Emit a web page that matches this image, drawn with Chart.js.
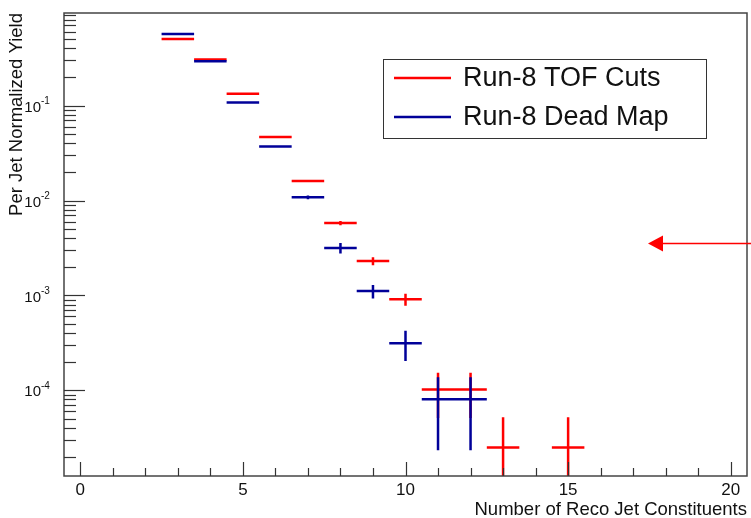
<!DOCTYPE html>
<html>
<head>
<meta charset="utf-8">
<script src="https://cdn.jsdelivr.net/npm/chart.js@4.4.0/dist/chart.umd.min.js"></script>
<style>
  body { margin: 0; background: #fff; }
  #wrap { width: 751px; height: 518px; }
</style>
</head>
<body>
<div id="wrap"><canvas id="chart" width="751" height="518"></canvas></div>
<script>
// values (bin centre = number of constituents)
const tofBins  = [3, 4, 5, 6, 7, 8, 9, 10, 11, 12, 13, 15];
const tofYield = [0.503, 0.306, 0.133, 0.0468, 0.0161, 0.0058, 0.0023, 0.00091, 1.02e-4, 1.02e-4, 2.5e-5, 2.5e-5];
const tofErr   = [0.002, 0.0015, 0.001, 0.0005, 0.00015, 0.0003, 0.00022, 0.00013, 5.1e-5, 5.1e-5, 2.7e-5, 2.7e-5];

const deadBins  = [3, 4, 5, 6, 7, 8, 9, 10, 11, 12];
const deadYield = [0.569, 0.294, 0.108, 0.037, 0.0108, 0.00316, 0.00111, 3.13e-4, 8.04e-5, 8.04e-5];
const deadErr   = [0.002, 0.0015, 0.0008, 0.0004, 0.0005, 0.0004, 0.00018, 0.00011, 5.7e-5, 5.7e-5];

const seriesNames = ["Run-8 TOF Cuts", "Run-8 Dead Map"];
const xTickLabels = [0, 5, 10, 15, 20];
const yDecades = [-1, -2, -3, -4];
const xTitle = "Number of Reco Jet Constituents";
const yTitle = "Per Jet Normalized Yield";

const X_MIN = -0.5, X_MAX = 20.5;
const Y_MIN = 1.25e-5, Y_MAX = 0.946;

const RED = "#ff0000";
const BLUE = "#000099";
const FONT = "'Liberation Sans', Arial, Helvetica, sans-serif";

// one horizontal bar across the bin plus a vertical error bar, gaps between
function histPoints(bins, vals, errs) {
    const pts = [];
    bins.forEach((b, i) => {
        const v = vals[i], e = errs[i];
        pts.push({ x: b - 0.5, y: v }, { x: b + 0.5, y: v }, { x: b, y: null });
        pts.push({ x: b, y: Math.max(v - e, Y_MIN) }, { x: b, y: v + e }, { x: b, y: null });
    });
    return pts;
}

// ROOT style frame, inward ticks, labels, legend and the arrow
const rootDecor = {
    id: "rootDecor",
    afterDraw(chart) {
        const ctx = chart.ctx;
        const ca = chart.chartArea;
        const xs = chart.scales.x, ys = chart.scales.y;
        ctx.save();

        // frame
        ctx.strokeStyle = "#444";
        ctx.lineWidth = 1.5;
        ctx.strokeRect(ca.left, ca.top, ca.right - ca.left, ca.bottom - ca.top);

        // x ticks
        ctx.lineWidth = 1.2;
        ctx.strokeStyle = "#333";
        for (let i = Math.ceil(X_MIN); i <= X_MAX; i++) {
            const px = Math.round(xs.getPixelForValue(i)) + 0.5;
            const len = xTickLabels.includes(i) ? 14 : 8;
            ctx.beginPath();
            ctx.moveTo(px, ca.bottom);
            ctx.lineTo(px, ca.bottom - len);
            ctx.stroke();
        }
        // y ticks
        for (let d = -6; d <= 0; d++) {
            for (let m = 1; m <= 9; m++) {
                const v = m * Math.pow(10, d);
                if (v < Y_MIN || v > Y_MAX) continue;
                const py = Math.round(ys.getPixelForValue(v)) + 0.5;
                const len = m === 1 ? 21 : 12;
                ctx.beginPath();
                ctx.moveTo(ca.left, py);
                ctx.lineTo(ca.left + len, py);
                ctx.stroke();
            }
        }

        ctx.fillStyle = "#111";
        // x tick labels
        ctx.font = "17px " + FONT;
        ctx.textAlign = "center";
        ctx.textBaseline = "top";
        xTickLabels.forEach(t => {
            ctx.fillText(String(t), xs.getPixelForValue(t), 482);
        });

        // y tick labels 10^n
        yDecades.forEach(d => {
            const py = ys.getPixelForValue(Math.pow(10, d));
            ctx.font = "15px " + FONT;
            ctx.textAlign = "right";
            ctx.textBaseline = "middle";
            ctx.fillText("10", 41, py + 2);
            ctx.font = "10px " + FONT;
            ctx.textAlign = "left";
            ctx.fillText("-" + Math.abs(d), 41, py - 4);
        });

        // axis titles
        ctx.font = "18.5px " + FONT;
        ctx.textAlign = "right";
        ctx.textBaseline = "alphabetic";
        ctx.fillText(xTitle, ca.right, 515);

        ctx.save();
        ctx.translate(22, ca.top);
        ctx.rotate(-Math.PI / 2);
        ctx.fillText(yTitle, 0, 0);
        ctx.restore();

        // legend
        ctx.fillStyle = "#fff";
        ctx.fillRect(383, 59, 323, 79);
        ctx.strokeStyle = "#333";
        ctx.lineWidth = 1;
        ctx.strokeRect(383.5, 59.5, 323, 79);
        const rows = [78, 117];
        const cols = [RED, BLUE];
        ctx.font = "27px " + FONT;
        ctx.textAlign = "left";
        ctx.textBaseline = "middle";
        rows.forEach((ry, i) => {
            ctx.strokeStyle = cols[i];
            ctx.lineWidth = 2.5;
            ctx.beginPath();
            ctx.moveTo(394, ry);
            ctx.lineTo(451, ry);
            ctx.stroke();
            ctx.fillStyle = "#111";
            ctx.fillText(seriesNames[i], 463, ry + 1);
        });

        // red arrow on the right
        ctx.strokeStyle = RED;
        ctx.fillStyle = RED;
        ctx.lineWidth = 1.5;
        ctx.beginPath();
        ctx.moveTo(751, 243.5);
        ctx.lineTo(660, 243.5);
        ctx.stroke();
        ctx.beginPath();
        ctx.moveTo(648, 243.5);
        ctx.lineTo(663, 235.5);
        ctx.lineTo(663, 251.5);
        ctx.closePath();
        ctx.fill();

        ctx.restore();
    }
};

new Chart(document.getElementById("chart"), {
    type: "line",
    data: {
        datasets: [
            {
                label: seriesNames[0],
                data: histPoints(tofBins, tofYield, tofErr),
                borderColor: RED,
                borderWidth: 2.5,
                pointRadius: 0,
                spanGaps: false,
                tension: 0,
                order: 2
            },
            {
                label: seriesNames[1],
                data: histPoints(deadBins, deadYield, deadErr),
                borderColor: BLUE,
                borderWidth: 2.5,
                pointRadius: 0,
                spanGaps: false,
                tension: 0,
                order: 1
            }
        ]
    },
    options: {
        responsive: false,
        animation: false,
        layout: { padding: { left: 64, top: 13, right: 4, bottom: 42 } },
        plugins: {
            legend: { display: false },
            tooltip: { enabled: false }
        },
        scales: {
            x: { type: "linear", min: X_MIN, max: X_MAX, display: false },
            y: { type: "logarithmic", min: Y_MIN, max: Y_MAX, display: false }
        }
    },
    plugins: [rootDecor]
});
</script>
</body>
</html>
